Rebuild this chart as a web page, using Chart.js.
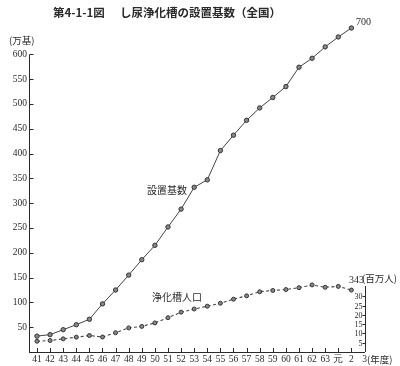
<!DOCTYPE html>
<html>
<head>
<meta charset="utf-8">
<script src="https://cdn.jsdelivr.net/npm/chart.js@4/dist/chart.umd.min.js"></script>
<style>
  html, body { margin: 0; padding: 0; background: #fff; }
</style>
</head>
<body>
<canvas id="chart" width="400" height="366"></canvas>
<script>
// fiscal years (昭和41 .. 平成3)
const years = ['41','42','43','44','45','46','47','48','49','50','51','52','53','54','55','56','57','58','59','60','61','62','63','元','2','3'];
// 設置基数 (万基)
const units = [32, 35, 45, 55, 66, 97, 125, 155, 186, 215, 252, 288, 332, 347, 406, 437, 467, 492, 513, 535, 574, 592, 615, 635, 653];
// 浄化槽人口 (百万人)
const population = [5.8, 6.2, 7.1, 8.0, 8.9, 8.1, 10.4, 13.0, 13.8, 15.7, 18.5, 21.5, 23.2, 24.7, 26.3, 28.5, 30.3, 32.5, 33.2, 33.7, 34.7, 36.2, 34.9, 35.4, 33.4];
const leftTicks = [50, 100, 150, 200, 250, 300, 350, 400, 450, 500, 550, 600];
const rightTicks = [5, 10, 15, 20, 25, 30];

const ink = '#2a2a2a';
const numFont = '"Liberation Serif", serif';
const jpFont = '"Noto Sans CJK JP", sans-serif';

const extras = {
  id: 'extras',
  afterDraw(chart) {
    const ctx = chart.ctx;
    const area = chart.chartArea;
    const x = chart.scales.x, y = chart.scales.y, y1 = chart.scales.y1;
    ctx.save();
    ctx.strokeStyle = ink;
    ctx.lineWidth = 1;

    // left axis line, only up to the 600 tick
    const lx = Math.round(area.left) + 0.5;
    ctx.beginPath();
    ctx.moveTo(lx, area.bottom);
    ctx.lineTo(lx, Math.round(y.getPixelForValue(600)) + 0.5);
    ctx.stroke();
    // inward tick marks on the left axis
    leftTicks.forEach(v => {
      const py = Math.round(y.getPixelForValue(v)) + 0.5;
      ctx.beginPath();
      ctx.moveTo(lx, py);
      ctx.lineTo(lx + 4, py);
      ctx.stroke();
    });
    // inward tick marks on the x axis
    x.ticks.forEach(t => {
      const px = Math.round(x.getPixelForValue(t.value)) + 0.5;
      ctx.beginPath();
      ctx.moveTo(px, area.bottom);
      ctx.lineTo(px, area.bottom - 4);
      ctx.stroke();
    });

    // short right axis for population
    const rx = Math.round(area.right) + 0.5;
    ctx.beginPath();
    ctx.moveTo(rx, y1.getPixelForValue(0));
    ctx.lineTo(rx, y1.getPixelForValue(35.6));
    ctx.stroke();
    ctx.fillStyle = ink;
    ctx.font = '8px ' + numFont;
    ctx.textAlign = 'right';
    ctx.textBaseline = 'middle';
    rightTicks.forEach(v => {
      const py = Math.round(y1.getPixelForValue(v)) + 0.5;
      ctx.beginPath();
      ctx.moveTo(rx, py);
      ctx.lineTo(rx - 3, py);
      ctx.stroke();
      ctx.fillText(String(v), rx - 3, py);
    });

    // annotations
    ctx.textAlign = 'left';
    ctx.font = '10px ' + numFont;
    ctx.fillText('343', 349, 280);
    ctx.fillText('700', 356, 22);

    ctx.font = '9.5px ' + jpFont;
    ctx.fillText('(百万人)', 362, 278);
    ctx.fillText('(万基)', 9, 40);
    ctx.fillText('(年度)', 367, 359);
    ctx.font = '10px ' + jpFont;
    ctx.fillText('設置基数', 147, 190);
    ctx.fillText('浄化槽人口', 152, 297);

    // title
    ctx.font = 'bold 11.5px ' + jpFont;
    ctx.fillText('第4-1-1図', 53, 13);
    ctx.fillText('し尿浄化槽の設置基数（全国）', 120, 13);
    ctx.restore();
  }
};

new Chart(document.getElementById('chart'), {
  type: 'line',
  data: {
    datasets: [
      {
        label: '設置基数',
        data: units.map((v, i) => ({ x: i, y: v })),
        yAxisID: 'y',
        borderColor: '#444',
        borderWidth: 1,
        pointRadius: 2.2,
        pointBackgroundColor: '#888',
        pointBorderColor: '#333',
        pointBorderWidth: 1
      },
      {
        label: '浄化槽人口',
        data: population.map((v, i) => ({ x: i, y: v })),
        yAxisID: 'y1',
        borderColor: '#444',
        borderWidth: 1.1,
        borderDash: [3, 2.5],
        pointRadius: 2,
        pointBackgroundColor: '#888',
        pointBorderColor: '#333',
        pointBorderWidth: 1
      }
    ]
  },
  options: {
    responsive: false,
    animation: false,
    layout: { padding: { top: 0, right: 35.5, left: 0, bottom: 0 } },
    plugins: { legend: { display: false }, tooltip: { enabled: false } },
    scales: {
      x: {
        type: 'linear',
        min: -0.61,
        max: 25,
        grid: { display: false, drawTicks: false },
        border: { display: true, color: ink, width: 1 },
        afterBuildTicks: s => { s.ticks = years.map((_, i) => ({ value: i })); },
        afterFit: s => { s.height = 14; s.paddingLeft = 0; s.paddingRight = 0; },
        ticks: {
          autoSkip: false,
          maxRotation: 0,
          padding: 2,
          color: ink,
          font: { family: numFont, size: 9.5 },
          callback: v => years[v] ?? ''
        }
      },
      y: {
        position: 'left',
        min: 0,
        max: 699.4,
        grid: { display: false, drawTicks: false },
        border: { display: false },
        afterBuildTicks: s => { s.ticks = leftTicks.map(v => ({ value: v })); },
        afterFit: s => { s.width = 29; s.paddingTop = 0; s.paddingBottom = 0; },
        ticks: {
          padding: 2,
          color: ink,
          font: { family: numFont, size: 9.5 }
        }
      },
      y1: {
        display: false,
        min: 0,
        max: 187.2
      }
    }
  },
  plugins: [extras]
});
</script>
</body>
</html>
